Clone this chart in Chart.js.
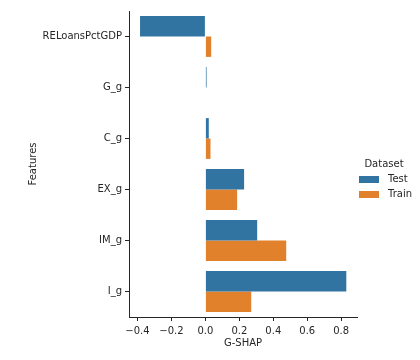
<!DOCTYPE html>
<html>
<head>
<meta charset="utf-8">
<script src="https://cdn.jsdelivr.net/npm/chart.js@4/dist/chart.umd.min.js"></script>
<style>
  html, body { margin: 0; padding: 0; background: #fff; }
  #wrap { width: 420px; height: 360px; }
</style>
</head>
<body>
<div id="wrap"><canvas id="chart" width="420" height="360"></canvas></div>
<script>
  // data
  const features = ["RELoansPctGDP", "G_g", "C_g", "EX_g", "IM_g", "I_g"];
  const testVals = [-0.385, 0.007, 0.02, 0.228, 0.305, 0.83];
  const trainVals = [0.034, 0.0, 0.03, 0.187, 0.476, 0.27];
  const xTicks = [-0.4, -0.2, 0.0, 0.2, 0.4, 0.6, 0.8];
  const seriesNames = ["Test", "Train"];

  const BLUE = "#3274a1";
  const ORANGE = "#e1812c";
  const INK = "#262626";
  const FONT = "'DejaVu Sans', sans-serif";

  function fmt(v){
    const s = Math.abs(v).toFixed(1);
    return v < -1e-9 ? "\u2212" + s : s;
  }

  // legend on the right, seaborn style
  const legendPlugin = {
    id: "sideLegend",
    afterDraw(chart){
      const ctx = chart.ctx;
      ctx.save();
      ctx.font = "10px " + FONT;
      ctx.fillStyle = INK;
      ctx.textBaseline = "middle";
      ctx.textAlign = "center";
      ctx.fillText("Dataset", 384, 164);
      const cols = [BLUE, ORANGE];
      seriesNames.forEach((name, i) => {
        const y = 176 + i * 15;
        ctx.fillStyle = cols[i];
        ctx.fillRect(359, y, 20, 7);
        ctx.fillStyle = INK;
        ctx.textAlign = "left";
        ctx.fillText(name, 388, y + 3.5);
      });
      ctx.restore();
    }
  };

  new Chart(document.getElementById("chart"), {
    type: "bar",
    data: {
      labels: features,
      datasets: [
        { label: seriesNames[0], data: testVals, backgroundColor: BLUE },
        { label: seriesNames[1], data: trainVals, backgroundColor: ORANGE }
      ]
    },
    options: {
      indexAxis: "y",
      responsive: false,
      animation: false,
      layout: { padding: { left: 0, top: 11, right: 63, bottom: 0 } },
      datasets: { bar: { categoryPercentage: 0.8, barPercentage: 1.0, borderWidth: 0 } },
      plugins: { legend: { display: false }, tooltip: { enabled: false } },
      scales: {
        x: {
          type: "linear",
          min: -0.45,
          max: 0.893,
          afterBuildTicks: s => { s.ticks = xTicks.map(v => ({ value: v })); },
          afterFit: s => { s.height = 43; },
          grid: { drawOnChartArea: false, drawTicks: true, tickLength: 4, color: INK },
          border: { display: true, color: INK, width: 1 },
          ticks: { color: INK, font: { family: FONT, size: 10 }, padding: 4, callback: v => fmt(v), maxRotation: 0 },
          title: { display: true, text: "G-SHAP", color: INK, font: { family: FONT, size: 10 }, padding: { top: 0, bottom: 11 } }
        },
        y: {
          type: "category",
          offset: true,
          afterFit: s => { s.width = 129; },
          grid: { drawOnChartArea: false, drawTicks: true, tickLength: 4, color: INK, offset: false },
          border: { display: true, color: INK, width: 1 },
          ticks: { color: INK, font: { family: FONT, size: 10 }, padding: 3 },
          title: { display: true, text: "Features", color: INK, font: { family: FONT, size: 10 }, padding: { top: 27, bottom: 0 } }
        }
      }
    },
    plugins: [legendPlugin]
  });
</script>
</body>
</html>
